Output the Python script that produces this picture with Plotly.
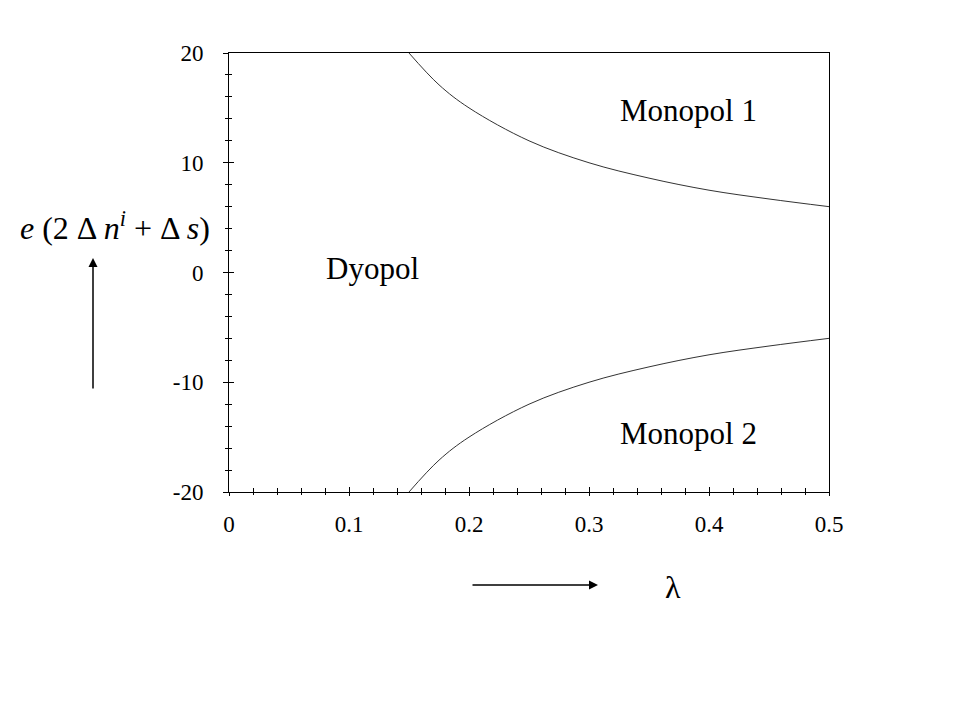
import plotly.graph_objects as go

# Boundary curves
lam_upper = [0.15, 0.175, 0.2, 0.25, 0.3, 0.35, 0.4, 0.45, 0.5]
e_upper = [20.0, 17.1, 15.0, 12.0, 10.0, 8.6, 7.5, 6.7, 6.0]
lam_lower = [0.15, 0.175, 0.2, 0.25, 0.3, 0.35, 0.4, 0.45, 0.5]
e_lower = [-20.0, -17.1, -15.0, -12.0, -10.0, -8.6, -7.5, -6.7, -6.0]

x_ticks = [0, 0.1, 0.2, 0.3, 0.4, 0.5]
x_tick_labels = ["0", "0.1", "0.2", "0.3", "0.4", "0.5"]
y_ticks = [-20, -10, 0, 10, 20]
y_tick_labels = ["-20", "-10", "0", "10", "20"]

region_labels = ["Monopol 1", "Dyopol", "Monopol 2"]

FONT = "Liberation Serif, Times New Roman, serif"

fig = go.Figure()
fig.add_trace(go.Scatter(x=lam_upper, y=e_upper, mode="lines",
                         line=dict(color="#333333", width=1, shape="spline", smoothing=1.0),
                         hoverinfo="skip", showlegend=False))
fig.add_trace(go.Scatter(x=lam_lower, y=e_lower, mode="lines",
                         line=dict(color="#333333", width=1, shape="spline", smoothing=1.0),
                         hoverinfo="skip", showlegend=False))
# invisible trace on overlay axes (for inside tick marks)
fig.add_trace(go.Scatter(x=[None], y=[None], xaxis="x2", yaxis="y2",
                         hoverinfo="skip", showlegend=False))

OFF = 8  # page body margin
L, R, T, B = 229 - OFF, 131 + OFF, 53 - OFF, 228 + OFF
W, H = 960 - L - R, 720 - T - B


def px(xp):
    return (xp - OFF - L) / W


def py(yp):
    return (720 - B - (yp - OFF)) / H


fig.update_layout(
    width=960, height=720,
    margin=dict(l=L, r=R, t=T, b=B),
    paper_bgcolor="white", plot_bgcolor="white",
    font=dict(family=FONT, size=23, color="black"),
    xaxis=dict(range=[0, 0.5], tickvals=x_ticks, ticktext=x_tick_labels,
               showgrid=False, zeroline=False, showline=True, linecolor="black",
               linewidth=1, mirror=True, ticks="outside", ticklen=3, tickwidth=1,
               tickcolor="black", ticklabelstandoff=8,
               minor=dict(ticks="outside", dtick=0.02, ticklen=2, tickcolor="black",
                          tickwidth=1, showgrid=False),
               tickfont=dict(family=FONT, size=23)),
    yaxis=dict(range=[-20, 20], tickvals=y_ticks, ticktext=y_tick_labels,
               showgrid=False, zeroline=False, showline=True, linecolor="black",
               linewidth=1, mirror=True, ticks="outside", ticklen=5, tickwidth=1,
               tickcolor="black", ticklabelstandoff=15,
               minor=dict(ticks="outside", dtick=2, ticklen=3, tickcolor="black",
                          tickwidth=1, showgrid=False),
               tickfont=dict(family=FONT, size=23)),
    xaxis2=dict(range=[0, 0.5], overlaying="x", anchor="y2", side="bottom",
                tickvals=x_ticks, showticklabels=False, showgrid=False,
                zeroline=False, showline=False, ticks="inside", ticklen=5,
                tickcolor="black",
                minor=dict(ticks="inside", dtick=0.02, ticklen=4, tickcolor="black",
                           showgrid=False)),
    yaxis2=dict(range=[-20, 20], overlaying="y", anchor="x2", side="left",
                tickvals=y_ticks, showticklabels=False, showgrid=False,
                zeroline=False, showline=False, ticks="inside", ticklen=5,
                tickcolor="black",
                minor=dict(ticks="inside", dtick=2, ticklen=3, tickcolor="black",
                           showgrid=False)),
    showlegend=False,
)

txt_font = dict(family=FONT, size=31, color="black")


def label(xp, yp, text, font):
    fig.add_annotation(x=px(xp), y=py(yp), xref="paper", yref="paper",
                       xanchor="center", yanchor="middle",
                       text=text, showarrow=False, font=font)


label(688, 110, region_labels[0], txt_font)
label(372, 268, region_labels[1], txt_font)
label(688, 433, region_labels[2], txt_font)

# axis titles
label(115, 226, "<i>e</i> (2 Δ <i>n</i><sup><i>i</i></sup> + Δ <i>s</i>)",
      dict(family=FONT, size=32, color="black"))
label(673, 587, "λ", dict(family=FONT, size=32, color="black"))

# arrows
fig.add_annotation(x=px(93), y=py(258), xref="paper", yref="paper",
                   ax=0, ay=132, text="", showarrow=True, arrowhead=2,
                   arrowsize=1.2, arrowwidth=1.5, arrowcolor="black")
fig.add_annotation(x=px(598), y=py(585), xref="paper", yref="paper",
                   ax=-127, ay=0, text="", showarrow=True, arrowhead=2,
                   arrowsize=1.2, arrowwidth=1.5, arrowcolor="black")

fig.write_html("out.html")
